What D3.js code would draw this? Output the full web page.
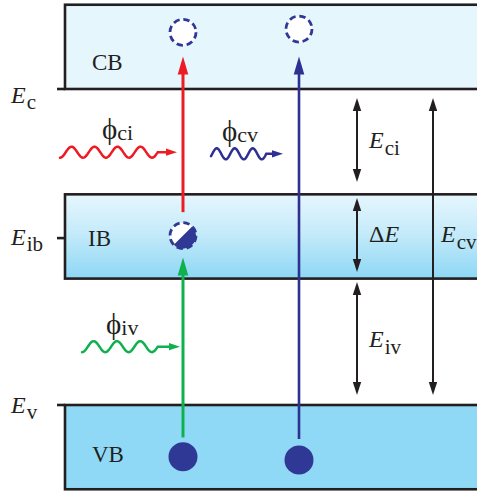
<!DOCTYPE html>
<html>
<head>
<meta charset="utf-8">
<script src="https://cdn.jsdelivr.net/npm/d3@7"></script>
<style>
  body { margin: 0; background: #fff; }
  svg { display: block; }
  text { font-family: "Liberation Serif", "Times New Roman", serif; fill: #231f20; }
</style>
</head>
<body>
<svg id="chart" width="477" height="492"></svg>
<script>
// energies in eV, valence band edge at 0
const bands = [
    { name: "CB", lo: 1.95, hi: 2.47 },
    { name: "IB", lo: 0.78, hi: 1.30 },
    { name: "VB", lo: -0.52, hi: 0.00 }
];
const levels = [
    { sub: "c", e: 1.95 },
    { sub: "ib", e: 1.03 },
    { sub: "v", e: 0.00 }
];
// excitations: photon that drives it, start and end energy
const transitions = [
    { photon: "iv", from: -0.20, to: 0.91 },
    { photon: "ci", from: 1.19, to: 2.15 },
    { photon: "cv", from: -0.21, to: 2.15 }
];
// carriers: column (0 = two-step path, 1 = direct path), energy, occupation
const carriers = [
    { col: 0, e: -0.32, fill: "full" },
    { col: 0, e: 1.045, fill: "half" },
    { col: 0, e: 2.30, fill: "empty" },
    { col: 1, e: -0.34, fill: "full" },
    { col: 1, e: 2.32, fill: "empty" }
];
// incoming photons: label, energy level drawn at, wave cycles, wavelength (px)
const photons = [
    { name: "ci", e: 1.56, phase0: 0.00, cycles: 4.25, lambda: 23 },
    { name: "cv", e: 1.55, phase0: 0.18, cycles: 3.25, lambda: 18 },
    { name: "iv", e: 0.36, phase0: 0.00, cycles: 3.25, lambda: 23.3 }
];
// energy gaps shown on the right
const gaps = [
    { pre: "", sub: "ci", from: 1.376, to: 1.894, col: 0 },
    { pre: "\u0394", sub: "", from: 0.821, to: 1.277, col: 0 },
    { pre: "", sub: "iv", from: 0.062, to: 0.759, col: 0 },
    { pre: "", sub: "cv", from: 0.062, to: 1.894, col: 1 }
];

const ink = "#231f20";
const colors = { ci: "#ed1c24", cv: "#2e3192", iv: "#0fb04e" };
const electronColor = "#303895";

const svg = d3.select("#chart");
const width = +svg.attr("width");

const y = d3.scaleLinear().domain([0, 1.95]).range([405, 89]);

const bandLeft = 65;
const tickLeft = 57;
const colX = [183, 299];
const gapX = [357, 433];

// --- bands
const defs = svg.append("defs");
const ibGrad = defs.append("linearGradient")
    .attr("id", "ib-grad")
    .attr("x1", 0).attr("y1", 0).attr("x2", 0).attr("y2", 1);
ibGrad.append("stop").attr("offset", "0%").attr("stop-color", "#e6f6fd");
ibGrad.append("stop").attr("offset", "45%").attr("stop-color", "#c6ebfa");
ibGrad.append("stop").attr("offset", "100%").attr("stop-color", "#8dd7f5");

const bandFill = { CB: "#e6f6fd", IB: "url(#ib-grad)", VB: "#8fd9f6" };
const bandLabel = { CB: { x: 92, dy: -19 }, IB: { x: 88, dy: 10 }, VB: { x: 92, dy: 15 } };

let bandG = svg.append("g").attr("id", "bands");
bandG.selectAll("rect")
    .data(bands)
    .join("rect")
    .attr("x", bandLeft)
    .attr("y", d => y(d.hi))
    .attr("width", width + 10 - bandLeft)
    .attr("height", d => y(d.lo) - y(d.hi))
    .attr("fill", d => bandFill[d.name])
    .attr("stroke", ink)
    .attr("stroke-width", 2.6);

bandG.selectAll("text")
    .data(bands)
    .join("text")
    .attr("x", d => bandLabel[d.name].x)
    .attr("y", d => d.name == "CB" ? y(d.lo) + bandLabel[d.name].dy : (y(d.lo) + y(d.hi)) / 2 + bandLabel[d.name].dy)
    .attr("font-size", 23)
    .text(d => d.name);

// --- level ticks and labels
const levelLabelDy = { c: 14, ib: 7, v: 8 };
let levelG = svg.append("g").attr("id", "levels");
levelG.selectAll("line")
    .data(levels)
    .join("line")
    .attr("x1", tickLeft).attr("x2", bandLeft)
    .attr("y1", d => y(d.e)).attr("y2", d => y(d.e))
    .attr("stroke", ink)
    .attr("stroke-width", 2.6);

let levelText = levelG.selectAll("text")
    .data(levels)
    .join("text")
    .attr("x", 11)
    .attr("y", d => y(d.e) + levelLabelDy[d.sub])
    .attr("font-size", 24);
levelText.append("tspan").attr("font-style", "italic").text("E");
levelText.append("tspan").attr("font-size", 21).attr("dy", 6).attr("dx", 1).text(d => d.sub);

// --- arrow helpers
function vArrowHead(g, x, tipY, dir, len, half, color) {
    // dir = -1 for pointing up, +1 for pointing down
    g.append("path")
        .attr("d", `M${x},${tipY} L${x - half},${tipY - dir * len} L${x + half},${tipY - dir * len} Z`)
        .attr("fill", color);
}

// --- transitions
let transG = svg.append("g").attr("id", "transitions");
const transCol = { iv: 0, ci: 0, cv: 1 };
transitions.forEach(t => {
    let x = colX[transCol[t.photon]];
    let headLen = 18;
    transG.append("line")
        .attr("x1", x).attr("x2", x)
        .attr("y1", y(t.from)).attr("y2", y(t.to) + headLen - 2)
        .attr("stroke", colors[t.photon])
        .attr("stroke-width", t.photon == "cv" ? 2.6 : 3);
    vArrowHead(transG, x, y(t.to), -1, headLen, 5.3, colors[t.photon]);
});

// --- carriers
let carrierG = svg.append("g").attr("id", "carriers");
carriers.forEach(c => {
    let cx = colX[c.col];
    let cy = y(c.e);
    if (c.fill == "full") {
        carrierG.append("circle")
            .attr("cx", cx).attr("cy", cy).attr("r", 14.5)
            .attr("fill", electronColor);
    } else {
        let r = 13;
        carrierG.append("circle")
            .attr("cx", cx).attr("cy", cy).attr("r", r)
            .attr("fill", "white");
        if (c.fill == "half") {
            let k = r / Math.SQRT2;
            carrierG.append("path")
                .attr("d", `M${cx + k},${cy - k} A${r},${r} 0 0 1 ${cx - k},${cy + k} Z`)
                .attr("fill", electronColor);
        }
        carrierG.append("circle")
            .attr("cx", cx).attr("cy", cy).attr("r", r)
            .attr("fill", "none")
            .attr("stroke", electronColor)
            .attr("stroke-width", 2.8)
            .attr("stroke-dasharray", "6.4,3.8");
    }
});

// --- photons
const photonX = { ci: { x0: 60, tip: 177 }, cv: { x0: 211, tip: 283 }, iv: { x0: 82, tip: 180 } };
const photonLabelX = { ci: 102, cv: 222, iv: 106 };
const amp = 5.5;
let photonG = svg.append("g").attr("id", "photons");
photons.forEach(p => {
    let mid = y(p.e);
    let pts = [];
    let x0 = photonX[p.name].x0;
    let span = (p.cycles - p.phase0) * p.lambda;
    for (let i = 0; i <= 120; i++) {
        let dx = span * i / 120;
        let ph = p.phase0 + dx / p.lambda;
        pts.push([x0 + dx, mid + amp * Math.cos(2 * Math.PI * ph)]);
    }
    let headLen = 11;
    pts.push([photonX[p.name].tip - headLen + 1, mid]);
    photonG.append("path")
        .attr("d", d3.line().curve(d3.curveLinear)(pts))
        .attr("fill", "none")
        .attr("stroke", colors[p.name])
        .attr("stroke-width", 2.5)
        .attr("stroke-linecap", "round");
    let tip = photonX[p.name].tip;
    photonG.append("path")
        .attr("d", `M${tip},${mid} L${tip - headLen},${mid - 3.6} L${tip - headLen},${mid + 3.6} Z`)
        .attr("fill", colors[p.name]);

    let label = photonG.append("text")
        .attr("x", photonLabelX[p.name])
        .attr("y", mid - 13)
        .attr("font-size", 29);
    label.append("tspan").text("\u03D5");
    label.append("tspan").attr("font-size", 22).attr("dy", 1).text(p.name);
});

// --- gap arrows
let gapG = svg.append("g").attr("id", "gaps");
gaps.forEach(g => {
    let x = gapX[g.col];
    let top = y(g.to), bot = y(g.from);
    let headLen = 13;
    gapG.append("line")
        .attr("x1", x).attr("x2", x)
        .attr("y1", top + headLen - 2).attr("y2", bot - headLen + 2)
        .attr("stroke", ink)
        .attr("stroke-width", 2);
    vArrowHead(gapG, x, top, -1, headLen, 4.2, ink);
    vArrowHead(gapG, x, bot, 1, headLen, 4.2, ink);
});

const gapLabel = [
    { x: 369, y: 148 },
    { x: 369, y: 241.5 },
    { x: 369, y: 347 },
    { x: 441, y: 242 }
];
gaps.forEach((g, i) => {
    let t = gapG.append("text")
        .attr("x", gapLabel[i].x)
        .attr("y", gapLabel[i].y)
        .attr("font-size", 24);
    if (g.pre) t.append("tspan").text(g.pre);
    t.append("tspan").attr("font-style", "italic").text("E");
    if (g.sub) t.append("tspan").attr("font-size", 21).attr("dy", 7).attr("dx", 1).text(g.sub);
});
</script>
</body>
</html>
